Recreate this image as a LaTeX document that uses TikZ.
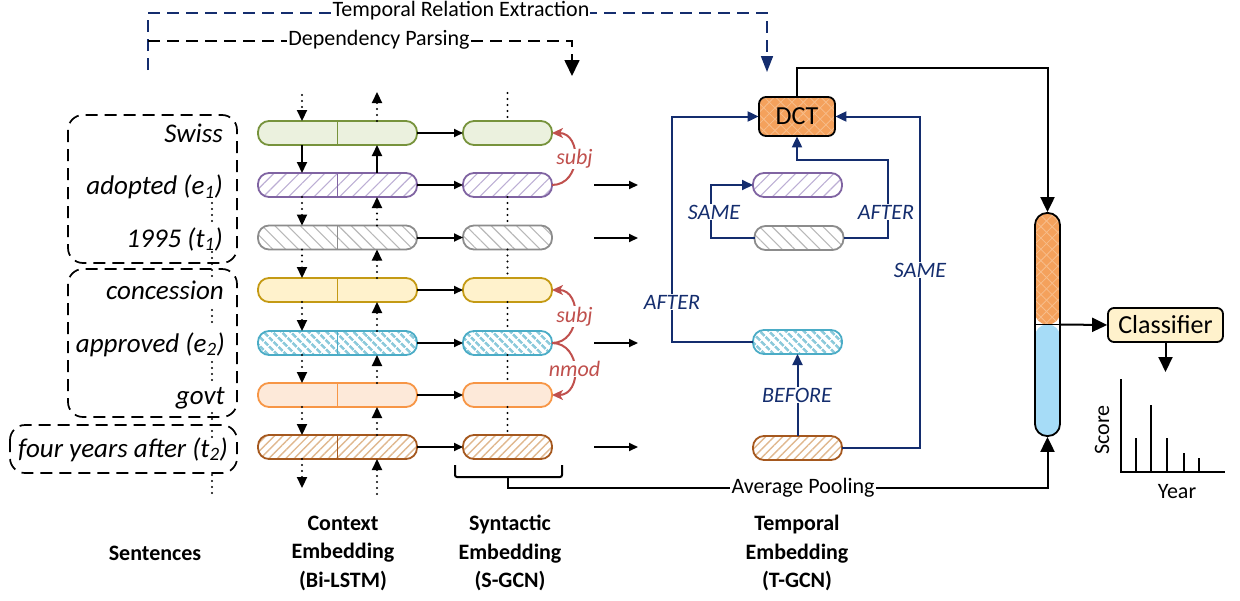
\documentclass[tikz,border=0pt]{standalone}
\usepackage{fontspec}
\setmainfont{Carlito}
\usetikzlibrary{arrows.meta,patterns.meta,calc}
\definecolor{navy}{HTML}{142D6E}
\definecolor{redc}{HTML}{C0504D}
\definecolor{gfill}{HTML}{EBF1DE}
\definecolor{gdraw}{HTML}{77933C}
\definecolor{pdraw}{HTML}{8064A2}
\definecolor{phatch}{HTML}{BCAED4}
\definecolor{grdraw}{HTML}{8C8C8C}
\definecolor{grhatch}{HTML}{B8B8B8}
\definecolor{ydraw}{HTML}{C49A14}
\definecolor{yfill}{HTML}{FFF2CC}
\definecolor{bdraw}{HTML}{4BACC6}
\definecolor{bhatch}{HTML}{8CCADB}
\definecolor{odraw}{HTML}{F79646}
\definecolor{ofill}{HTML}{FDE9D9}
\definecolor{brdraw}{HTML}{A5581E}
\definecolor{brhatch}{HTML}{E0B88F}
\definecolor{dctfill}{HTML}{F4A15C}
\definecolor{dcthatch}{HTML}{F7BD8B}
\definecolor{vecblue}{HTML}{A6DCF7}
\definecolor{clsfill}{HTML}{FFF2CC}
\tikzset{
 bar/.style={rounded corners=11pt, minimum height=24pt, line width=1.8pt, inner sep=0pt, outer sep=0pt},
 lstm/.style={bar, minimum width=159pt},
 sgn/.style={bar, minimum width=89pt},
 gst/.style={draw=gdraw, fill=gfill},
 pst/.style={draw=pdraw, pattern={Lines[angle=45,distance=9pt,line width=1.1pt]}, pattern color=phatch},
 grst/.style={draw=grdraw, pattern={Lines[angle=-45,distance=9pt,line width=1.1pt]}, pattern color=grhatch},
 yst/.style={draw=ydraw, fill=yfill},
 bst/.style={draw=bdraw, pattern={Lines[angle=-45,distance=6.5pt,line width=2.7pt]}, pattern color=bhatch},
 ost/.style={draw=odraw, fill=ofill},
 brst/.style={draw=brdraw, pattern={Lines[angle=45,distance=6pt,line width=1.4pt]}, pattern color=brhatch},
 arr/.style={line width=2pt, -{Triangle[width=8pt,length=9pt]}},
 arrb/.style={line width=2pt, -{Triangle[width=10pt,length=11pt]}},
 dotarr/.style={line width=2.2pt, line cap=round, dash pattern=on 0pt off 6pt, -{Triangle[width=10pt,length=11pt]}},
 dotln/.style={line width=2.2pt, line cap=round, dash pattern=on 0pt off 6pt},
 nav/.style={navy, line width=2pt, -{Triangle[width=10pt,length=11pt]}},
 nlbl/.style={text=navy, font=\fontsize{22}{24}\selectfont\itshape, fill=white, inner sep=1pt},
 rarc/.style={redc, line width=2pt, -{Stealth[width=10pt,length=11pt,inset=3pt]}},
 rlbl/.style={text=redc, font=\fontsize{22}{24}\selectfont\itshape, fill=white, inner sep=0.5pt},
 sent/.style={font=\fontsize{27}{30}\selectfont\itshape, anchor=base east, inner sep=0pt},
 sbox/.style={line width=1.7pt, dash pattern=on 12pt off 7pt, rounded corners=15pt},
 dashln/.style={line width=1.7pt, dash pattern=on 12pt off 7pt},
 bigarr/.style={line width=2pt, -{Triangle[width=14pt,length=15pt]}},
 ttl/.style={font=\fontsize{22}{28.5}\selectfont\bfseries, align=center},
 txt/.style={font=\fontsize{22}{26}\selectfont},
 dctst/.style={draw=black, line width=1.8pt, rounded corners=7pt, minimum width=76pt, minimum height=39pt,
   preaction={fill=dctfill},
   preaction={pattern={Lines[angle=45,distance=8pt,line width=0.8pt]}, pattern color=dcthatch},
   pattern={Lines[angle=-45,distance=8pt,line width=0.8pt]}, pattern color=dcthatch,
   font=\fontsize{26}{28}\selectfont, inner sep=0pt},
}
\begin{document}
\begin{tikzpicture}[x=1pt,y=-1pt]
\useasboundingbox (0,0) rectangle (1240,600);

% ---------- top dashed lines ----------
\coordinate (tre0) at (148,70);
\coordinate (tre1) at (767,72);
\draw[navy, dashln, -{Triangle[width=12pt,length=16pt]}] (tre0) -- (148,13) -- (767,13) -- (tre1);
\node[txt, fill=white, inner sep=1pt] (tre) at (461,11) {Temporal Relation Extraction};
\coordinate (dp0) at (148,41);
\coordinate (dp1) at (572,76);
\draw[dashln, -{Triangle[width=15pt,length=16pt]}] (dp0) -- (572,41) -- (dp1);
\node[txt, fill=white, inner sep=1pt] (dpl) at (379,40) {Dependency Parsing};

% ---------- sentences ----------
\draw[sbox] (68,115) rectangle (237,263);
\draw[sbox] (68,269) rectangle (237,417);
\draw[sbox] (10,425) rectangle (237,473);
\node[sent] (w1) at (223,142) {Swiss};
\node[sent] (w2) at (223,194.5) {adopted (e\textsubscript{1})};
\node[sent] (w3) at (223,247) {1995 (t\textsubscript{1})};
\node[sent] (w4) at (224,299.5) {concession};
\node[sent] (w5) at (225,352) {approved (e\textsubscript{2})};
\node[sent] (w6) at (225,404.5) {govt};
\node[sent] (w7) at (228,457) {four years after (t\textsubscript{2})};
\draw[dotln] (212,203) -- (212,223);
\draw[dotln] (212,252) -- (212,277);
\draw[dotln] (212,310) -- (212,328);
\draw[dotln] (212,362) -- (212,381);
\draw[dotln] (212,413) -- (212,437);
\draw[dotln] (212,475) -- (212,493);

% ---------- Bi-LSTM and S-GCN ----------
\node[lstm,gst] (l1) at (337.5,133) {};
\node[lstm,pst] (l2) at (337.5,185) {};
\node[lstm,grst] (l3) at (337.5,237.5) {};
\node[lstm,yst] (l4) at (337.5,290) {};
\node[lstm,bst] (l5) at (337.5,343) {};
\node[lstm,ost] (l6) at (337.5,395) {};
\node[lstm,brst] (l7) at (337.5,447) {};
\draw[gdraw, line width=1.8pt] (l1.north) -- (l1.south);
\draw[pdraw, line width=1.8pt] (l2.north) -- (l2.south);
\draw[grdraw, line width=1.8pt] (l3.north) -- (l3.south);
\draw[ydraw, line width=1.8pt] (l4.north) -- (l4.south);
\draw[bdraw, line width=1.8pt] (l5.north) -- (l5.south);
\draw[odraw, line width=1.8pt] (l6.north) -- (l6.south);
\draw[brdraw, line width=1.8pt] (l7.north) -- (l7.south);

\node[sgn,gst] (s1) at (507.5,133) {};
\node[sgn,pst] (s2) at (507.5,185) {};
\node[sgn,grst] (s3) at (507.5,237.5) {};
\node[sgn,yst] (s4) at (507.5,290) {};
\node[sgn,bst] (s5) at (507.5,343) {};
\node[sgn,ost] (s6) at (507.5,395) {};
\node[sgn,brst] (s7) at (507.5,447) {};

\foreach \i in {1,...,7} { \draw[arr] (l\i.east) -- (s\i.west); }

\coordinate (lx) at (302,0);
\coordinate (rx) at (377,0);
\coordinate (ltop) at (302,95);
\coordinate (rtop) at (377,92);
\coordinate (lbot) at (302,488);
\coordinate (rbot) at (377,494);
\draw[dotarr] (ltop) -- (l1.north -| lx);
\draw[dotarr] (l1.north -| rx) -- (rtop);
\draw[arrb] (l1.south -| lx) -- (l2.north -| lx);
\draw[arrb] (l2.north -| rx) -- (l1.south -| rx);
\foreach \i/\j in {2/3,3/4,4/5,5/6,6/7} {
  \draw[dotarr] (l\i.south -| lx) -- (l\j.north -| lx);
  \draw[dotarr] (l\j.north -| rx) -- (l\i.south -| rx);
}
\draw[dotarr] (l7.south -| lx) -- (lbot);
\draw[dotarr] (rbot) -- (l7.south -| rx);

\coordinate (stop) at (507.5,93);
\draw[dotln] (stop) -- (s1.north);
\foreach \i/\j in {2/3,3/4,4/5,5/6,6/7} { \draw[dotln] (s\i.south) -- (s\j.north); }

% dependency arcs
\draw[rarc] (s2.east) .. controls +(30,0) and +(30,0) .. (s1.east) node[midway, rlbl] (subj1) {subj};
\draw[rarc] (s5.east) .. controls +(30,0) and +(30,0) .. (s4.east) node[midway, rlbl] (subj2) {subj};
\draw[rarc] (s5.east) .. controls +(30,0) and +(30,0) .. (s6.east) node[midway, rlbl] (nmod) {nmod};

% S-GCN to T-GCN arrows
\foreach \y in {185,238,343,447} {
  \coordinate (a\y) at (594,\y);
  \coordinate (b\y) at (638,\y);
  \draw[arr] (a\y) -- (b\y);
}

% average pooling bracket
\coordinate (bl) at (455,465);
\coordinate (br) at (562,465);
\coordinate (bm) at (508,477);
\draw[line width=2pt, rounded corners=2pt] (bl) -- (455,477) -- (562,477) -- (br);

% ---------- T-GCN ----------
\node[sgn,pst] (tp) at (797.5,185) {};
\node[sgn,grst] (tg) at (799,238) {};
\node[sgn,bst] (tb) at (797.5,342) {};
\node[sgn,brst] (tr) at (797.5,448) {};
\node[dctst] (dct) at (797,116.5) {DCT};

\draw[nav] (tb.west) -- ++(-81,0) |- (dct.west);
\draw[nav] (tr.east) -- ++(77.5,0) |- (dct.east);
\draw[nav] (tg.west) -- ++(-44,0) |- (tp.west);
\draw[nav] (tg.east) -- ++(44,0) -- ++(0,-78) -| (dct.south);
\draw[nav] (tr.north) -- (tb.south);
\node[nlbl] (la1) at (672,302) {AFTER};
\node[nlbl] (la2) at (920,270) {SAME};
\node[nlbl] (la3) at (714,212) {SAME};
\node[nlbl] (la4) at (886,212) {AFTER};
\node[nlbl] (la5) at (797,395) {BEFORE};

% ---------- vector, classifier ----------
\node[draw, line width=1.8pt, minimum width=25pt, minimum height=223pt, rounded corners=12pt, inner sep=0pt,
  path picture={
    \fill[dctfill] (path picture bounding box.north west) rectangle (path picture bounding box.east);
    \fill[pattern={Lines[angle=45,distance=8pt,line width=0.8pt]}, pattern color=dcthatch] (path picture bounding box.north west) rectangle (path picture bounding box.east);
    \fill[pattern={Lines[angle=-45,distance=8pt,line width=0.8pt]}, pattern color=dcthatch] (path picture bounding box.north west) rectangle (path picture bounding box.east);
    \fill[vecblue] (path picture bounding box.west) rectangle (path picture bounding box.south east);
    \draw[line width=1.8pt] (path picture bounding box.west) -- (path picture bounding box.east);
  }] (vec) at (1047.5,324.5) {};

\draw[bigarr] (dct.north) -- ++(0,-29) -| (vec.north);
\draw[bigarr] (bm) -- (508,488) -| (vec.south);
\node[txt, fill=white, inner sep=2pt] (avg) at (803,488) {Average Pooling};

\node[draw, line width=1.8pt, fill=clsfill, rounded corners=6pt, minimum width=115pt, minimum height=34pt,
  inner sep=0pt, font=\fontsize{26}{28}\selectfont] (cls) at (1165.5,325) {Classifier};
\draw[bigarr] (vec.east) -- (cls.west);
\coordinate (clsout) at (1165.5,372);
\draw[bigarr] (cls.south) -- (clsout);

% chart
\coordinate (org) at (1121,472);
\draw[line width=1.8pt] (1121,379) -- (org) -- (1225,472);
\foreach \x/\t in {1136/438, 1151/405, 1167/438, 1184/453, 1199/458} { \draw[line width=2pt] (\x,472) -- (\x,\t); }
\node[rotate=90, font=\fontsize{22}{24}\selectfont] (score) at (1102,430) {Score};
\node[font=\fontsize{22}{24}\selectfont] (year) at (1177,492) {Year};

% ---------- titles ----------
\node[ttl] (t0) at (155,553) {Sentences};
\node[ttl] (t1) at (343,553) {Context\\Embedding\\(Bi-LSTM)};
\node[ttl] (t2) at (510,553) {Syntactic\\Embedding\\(S-GCN)};
\node[ttl] (t3) at (797,553) {Temporal\\Embedding\\(T-GCN)};
\end{tikzpicture}
\end{document}
